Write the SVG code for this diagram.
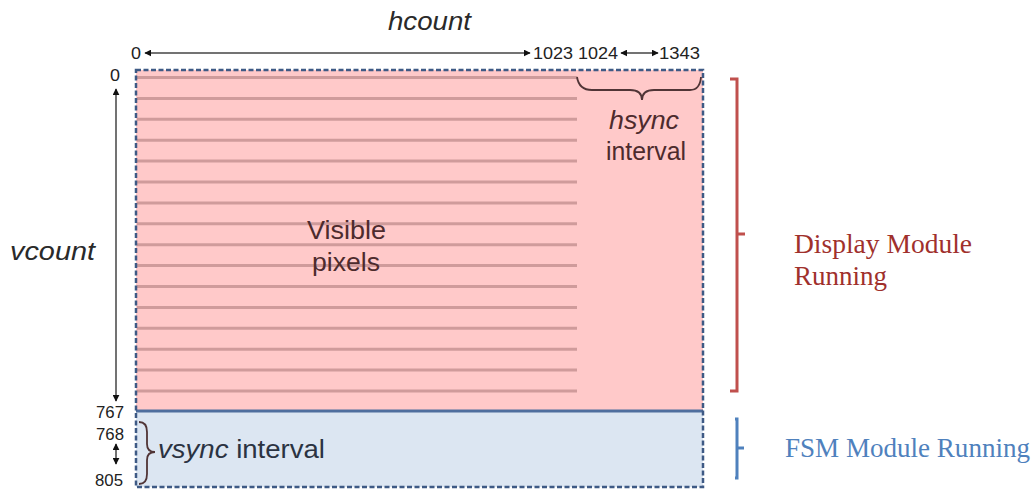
<svg xmlns="http://www.w3.org/2000/svg" width="1036" height="490" viewBox="0 0 1036 490">
<style>
.num{font-family:"Liberation Sans",Arial,sans-serif;font-size:17px;fill:#222}
.lbl{font-family:"Liberation Sans",Arial,sans-serif;font-size:26px;fill:#2a2a2a}
.pk{fill:#4d2b2d}
.bl{fill:#2b3342}
.it{font-style:italic}
.stripe{stroke:#cf9b9b;stroke-width:3}
.arr{stroke:#444;stroke-width:1.5;fill:none}
.brace{fill:none;stroke:#503436;stroke-width:1.8}
.serif{font-family:"Liberation Serif","Times New Roman",serif;font-size:27px}
</style>
<defs>
<marker id="ah" viewBox="0 0 10 10" refX="9" refY="5" markerWidth="7" markerHeight="7" orient="auto-start-reverse" markerUnits="userSpaceOnUse">
<path d="M0,0 L10,5 L0,10 Z" fill="#111"/>
</marker>
</defs>
<rect width="1036" height="490" fill="#fff"/>
<g id="frame">
<rect x="136" y="70" width="567" height="341" fill="#ffc9c9"/>
<rect x="136" y="411" width="567" height="76" fill="#dce6f2"/>
<g id="stripes">
<line class="stripe" x1="137" y1="77.5" x2="577" y2="77.5"/>
<line class="stripe" x1="137" y1="98.4" x2="577" y2="98.4"/>
<line class="stripe" x1="137" y1="119.3" x2="577" y2="119.3"/>
<line class="stripe" x1="137" y1="140.2" x2="577" y2="140.2"/>
<line class="stripe" x1="137" y1="161.1" x2="577" y2="161.1"/>
<line class="stripe" x1="137" y1="182" x2="577" y2="182"/>
<line class="stripe" x1="137" y1="202.9" x2="577" y2="202.9"/>
<line class="stripe" x1="137" y1="223.8" x2="577" y2="223.8"/>
<line class="stripe" x1="137" y1="244.7" x2="577" y2="244.7"/>
<line class="stripe" x1="137" y1="265.6" x2="577" y2="265.6"/>
<line class="stripe" x1="137" y1="286.5" x2="577" y2="286.5"/>
<line class="stripe" x1="137" y1="307.4" x2="577" y2="307.4"/>
<line class="stripe" x1="137" y1="328.3" x2="577" y2="328.3"/>
<line class="stripe" x1="137" y1="349.2" x2="577" y2="349.2"/>
<line class="stripe" x1="137" y1="370.1" x2="577" y2="370.1"/>
<line class="stripe" x1="137" y1="391" x2="577" y2="391"/>
</g>
<line x1="136" y1="411" x2="703" y2="411" stroke="#4f6e9e" stroke-width="3"/>
<rect x="136" y="70" width="567" height="417" fill="none" stroke="#3e5a85" stroke-width="2.5" stroke-dasharray="5,2.5"/>
</g>
<g id="connectors">
<line class="arr" x1="145" y1="53" x2="530" y2="53" marker-start="url(#ah)" marker-end="url(#ah)"/>
<line class="arr" x1="621" y1="53" x2="658" y2="53" marker-start="url(#ah)" marker-end="url(#ah)"/>
<line class="arr" x1="116" y1="89" x2="116" y2="401" marker-start="url(#ah)" marker-end="url(#ah)"/>
<line class="arr" x1="116" y1="444" x2="116" y2="464" marker-start="url(#ah)" marker-end="url(#ah)"/>
</g>
<g id="axis-labels">
<text class="lbl it" x="388" y="30" textLength="83" lengthAdjust="spacingAndGlyphs">hcount</text>
<text class="num" x="131" y="59" textLength="10" lengthAdjust="spacingAndGlyphs">0</text>
<text class="num" x="533" y="59" textLength="40" lengthAdjust="spacingAndGlyphs">1023</text>
<text class="num" x="578" y="59" textLength="40" lengthAdjust="spacingAndGlyphs">1024</text>
<text class="num" x="659" y="59" textLength="41" lengthAdjust="spacingAndGlyphs">1343</text>
<text class="num" x="110" y="81" textLength="10" lengthAdjust="spacingAndGlyphs">0</text>
<text class="lbl it" x="10" y="260" textLength="85" lengthAdjust="spacingAndGlyphs">vcount</text>
<text class="num" x="96" y="418" textLength="28" lengthAdjust="spacingAndGlyphs">767</text>
<text class="num" x="96" y="440" textLength="28" lengthAdjust="spacingAndGlyphs">768</text>
<text class="num" x="95" y="486" textLength="28" lengthAdjust="spacingAndGlyphs">805</text>
</g>
<g id="visible">
<text class="lbl pk" x="307" y="239" textLength="79" lengthAdjust="spacingAndGlyphs">Visible</text>
<text class="lbl pk" x="312" y="271" textLength="68" lengthAdjust="spacingAndGlyphs">pixels</text>
</g>
<g id="hsync">
<path class="brace" d="M577,77 Q579,90 592,90 L630,90 Q642,90 642,100 Q642,90 654,90 L690,90 Q700,90 701,77"/>
<text class="lbl pk it" x="609" y="129" textLength="70" lengthAdjust="spacingAndGlyphs">hsync</text>
<text class="lbl pk" x="606" y="160" textLength="80" lengthAdjust="spacingAndGlyphs">interval</text>
</g>
<g id="vsync">
<path class="brace" d="M139,422 Q147,422 147,432 L147,444 Q147,452 155,452 Q147,452 147,460 L147,474 Q147,484 139,484"/>
<text class="lbl bl" x="158" y="458" textLength="167" lengthAdjust="spacingAndGlyphs"><tspan class="it">vsync</tspan> interval</text>
</g>
<g id="display">
<path d="M730,79 L737,79 L737,391 L730,391 M737,234 L745,234" fill="none" stroke="#c0504d" stroke-width="3"/>
<text class="serif" x="794" y="253" fill="#a0302c" textLength="178" lengthAdjust="spacingAndGlyphs">Display Module</text>
<text class="serif" x="794" y="285" fill="#a0302c">Running</text>
</g>
<g id="fsm">
<path d="M735,419 L737,419 L737,478 L735,478 M737,448 L744,448" fill="none" stroke="#4f81bd" stroke-width="3"/>
<text class="serif" x="785" y="457" fill="#4f81bd" textLength="245" lengthAdjust="spacingAndGlyphs">FSM Module Running</text>
</g>
</svg>
